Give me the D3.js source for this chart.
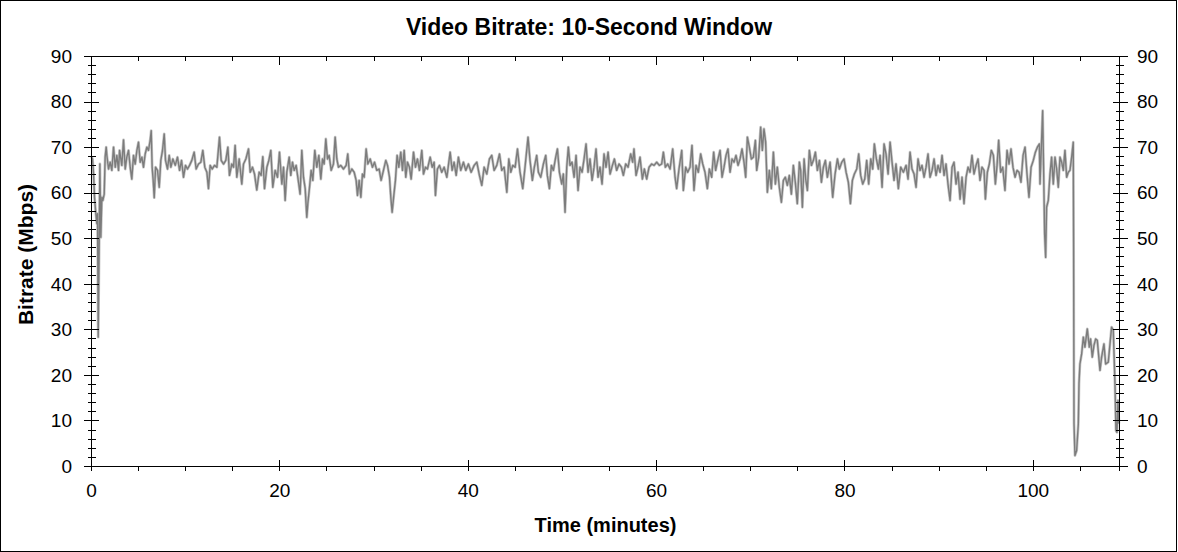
<!DOCTYPE html>
<html><head><meta charset="utf-8">
<script src="https://cdn.jsdelivr.net/npm/d3@7"></script>
<style>
body{margin:0;background:#fff}
svg{display:block}
text{font-family:"Liberation Sans",Arial,Helvetica,sans-serif;fill:#000}
</style>
</head><body>
<svg id="chart" width="1178" height="552"></svg>
<script>
const chartTitle = "Video Bitrate: 10-Second Window";
const xTitle = "Time (minutes)";
const yTitle = "Bitrate (Mbps)";

const minutes = [
0.00,0.11,0.22,0.32,0.46,0.57,0.64,0.71,0.82,0.89,
0.99,1.10,1.21,1.35,1.45,1.56,
1.63,1.81,1.98,2.16,2.34,2.52,2.69,2.87,2.98,3.22,
3.40,3.58,3.75,3.93,4.11,4.28,4.46,4.64,4.82,4.99,
5.17,5.35,5.52,5.70,5.88,6.05,6.23,6.34,6.44,6.55,
6.66,6.80,7.01,7.19,7.36,7.54,7.72,7.86,8.07,8.25,
8.43,8.64,8.89,9.13,9.35,9.56,9.77,9.98,10.19,10.41,
10.65,10.90,11.11,11.36,11.61,11.82,12.03,12.25,12.42,12.60,
12.81,13.06,13.31,13.59,13.77,14.02,14.26,14.48,14.65,14.90,
15.08,15.25,15.43,15.68,15.96,16.14,16.39,16.67,16.85,17.09,
17.31,17.55,17.80,18.01,18.19,18.37,18.62,18.83,19.04,19.25,
19.50,19.75,19.96,
20.21,20.39,20.56,20.74,20.99,21.16,21.34,21.52,21.73,21.98,
22.15,22.33,22.51,22.69,22.86,22.97,23.15,23.32,23.50,23.71,
23.92,24.14,24.35,24.53,24.70,24.88,25.06,25.23,25.45,25.69,
25.87,26.05,26.22,26.47,26.75,27.04,27.21,27.39,27.64,27.89,
28.10,28.24,28.42,28.60,28.77,28.95,29.16,29.34,29.59,29.83,
30.05,30.29,30.54,30.75,31.00,31.25,31.43,31.64,31.78,31.92,
32.10,32.27,32.45,32.63,32.84,33.02,33.20,33.37,33.55,33.76,
33.94,34.19,34.40,34.61,34.82,35.07,35.25,35.46,35.67,35.96,
36.17,36.38,36.52,36.73,36.95,37.19,37.44,37.73,38.08,38.29,
38.50,38.72,38.96,39.21,39.49,39.74,40.02,40.31,40.63,40.91,
41.19,41.44,41.69,41.97,42.25,42.50,42.75,43.03,43.32,43.56,
43.81,44.10,44.31,44.52,44.73,44.98,45.23,
45.50,45.79,46.03,46.35,46.56,46.81,47.02,47.27,47.45,47.70,
47.98,48.23,48.40,48.62,48.83,49.04,49.29,49.47,49.68,49.93,
50.10,50.28,50.46,50.63,50.81,51.02,51.24,51.45,51.66,51.87,
52.09,52.30,52.51,52.72,52.93,53.15,53.36,53.57,53.78,53.99,
54.21,54.42,54.63,54.85,55.06,55.31,55.52,55.76,56.01,56.26,
56.47,56.72,56.97,57.25,57.46,57.60,57.82,58.07,58.24,58.49,
58.70,58.95,59.20,59.48,59.73,60.01,60.29,60.54,60.72,60.93,
61.18,61.43,61.71,61.96,62.13,62.38,62.67,62.84,63.09,63.30,
63.55,63.76,63.97,64.19,64.43,64.68,64.90,65.14,65.39,65.60,
65.85,66.06,66.27,66.49,66.74,66.95,67.16,67.37,67.58,67.80,
68.01,68.22,68.43,68.65,68.86,69.07,69.28,69.46,69.64,69.85,
70.06,70.27,70.49,70.63,70.84,71.05,71.23,71.40,71.58,71.76,
71.97,72.18,72.40,72.61,72.82,73.03,73.25,73.46,73.67,73.88,
74.09,74.31,74.52,74.73,74.94,75.16,
75.30,75.48,75.66,75.83,76.01,76.22,76.44,76.65,76.86,77.07,
77.29,77.50,77.71,77.92,78.13,78.42,78.70,78.95,79.20,79.41,
79.66,79.90,80.12,80.36,80.58,80.79,81.00,81.25,81.46,81.67,
81.89,82.10,82.31,82.52,82.74,82.95,83.12,83.34,83.55,83.73,
83.94,84.15,84.36,84.58,84.79,85.00,85.21,85.42,85.67,85.92,
86.20,86.49,86.70,86.91,87.12,87.34,87.55,87.76,87.97,88.18,
88.40,88.61,88.82,89.03,89.25,89.46,89.67,89.88,90.10,90.31,
90.52,90.73,90.94,91.16,91.37,91.58,91.79,92.01,92.22,92.43,
92.64,92.86,93.07,93.28,93.49,93.70,93.92,94.13,94.34,94.55,
94.77,94.91,95.12,95.33,95.54,95.76,95.97,96.15,96.32,96.53,
96.75,96.99,97.21,97.42,97.63,97.84,98.06,98.27,98.48,98.69,
98.91,99.12,99.33,99.54,99.76,100.00,100.22,100.43,100.64,
100.71,100.99,101.10,101.20,101.31,101.41,101.59,101.77,101.94,102.12,
102.30,102.48,102.65,102.83,103.01,103.18,103.36,103.54,103.71,103.89,
104.07,104.24,104.28,104.32,104.42,104.60,104.78,104.85,104.95,105.13,
105.31,105.48,105.73,105.94,106.08,106.26,106.44,106.62,106.79,107.08,
107.25,107.50,107.68,107.96,108.14,108.31,108.49,108.67,108.77,108.88,
108.99,109.09
];

const bitrate = [
68.0,67.5,64.2,59.1,55.5,53.3,55.5,28.4,49.6,66.4,
50.3,59.1,58.4,59.8,67.9,70.1,
68.3,65.3,66.8,65.0,70.1,65.7,68.3,65.0,69.4,66.1,
71.7,65.3,67.9,69.4,65.7,63.1,68.3,66.4,69.4,71.2,
66.8,67.9,65.7,68.6,70.1,69.4,71.6,73.7,65.7,62.8,
59.0,65.7,65.0,61.3,67.2,69.4,73.0,67.2,65.3,68.3,
65.7,67.5,66.1,67.9,65.0,67.2,63.5,66.1,65.3,66.1,
67.2,69.0,65.3,66.4,66.8,69.4,65.7,64.6,61.0,66.1,
65.3,66.1,65.7,72.3,67.2,66.4,67.2,70.1,63.9,66.4,
65.7,70.5,63.5,67.5,62.0,66.4,67.5,69.7,64.6,65.7,
64.2,60.7,64.6,63.9,68.0,61.0,65.7,67.2,69.4,61.3,
65.0,63.5,69.0,
62.0,65.7,58.4,64.6,67.9,63.9,66.8,65.0,66.1,62.4,
59.8,69.4,63.5,61.0,54.7,57.7,61.3,65.0,62.8,69.4,
65.7,68.3,63.1,67.5,66.4,71.9,67.5,68.3,65.0,66.4,
72.3,67.5,65.7,66.1,65.3,66.1,68.6,64.2,65.3,64.6,
62.8,59.5,62.8,59.1,64.2,63.5,69.7,66.4,67.5,65.7,
66.8,65.0,65.3,62.8,65.0,67.2,66.1,63.5,59.1,55.8,
59.5,62.8,68.3,65.7,69.0,65.0,69.4,63.5,66.8,65.7,
63.1,69.0,65.7,67.5,65.0,69.4,64.2,65.7,65.3,67.9,
65.7,66.8,59.5,65.3,66.1,64.6,65.7,63.5,69.0,65.0,
66.8,63.9,67.9,65.0,66.8,65.0,66.4,64.6,66.1,66.8,
63.9,61.7,65.7,64.2,67.5,68.3,65.0,66.1,68.6,65.0,
65.7,60.2,67.5,64.6,66.1,65.7,69.7,
64.6,61.0,65.7,72.3,67.2,62.8,65.7,68.3,64.6,63.5,
66.4,68.3,63.9,61.0,66.1,65.0,67.9,69.7,64.6,62.0,
64.2,55.8,65.7,70.1,66.1,66.8,63.5,68.3,60.6,65.7,
64.6,67.5,70.8,64.6,67.5,62.8,65.7,69.7,63.5,65.7,
62.0,68.6,65.7,69.0,64.2,66.1,67.5,65.0,66.4,65.7,
63.9,66.4,65.7,68.6,66.8,69.7,63.9,66.1,67.9,63.1,
65.3,63.1,65.7,66.4,66.1,66.8,66.1,66.4,69.0,65.7,
66.4,65.3,69.7,63.5,61.0,65.3,69.4,60.6,65.7,64.6,
65.7,70.5,60.6,66.1,64.6,68.6,66.4,64.6,61.0,65.3,
63.5,69.0,65.0,67.2,69.4,63.5,65.7,68.3,69.7,64.6,
67.5,66.8,68.3,66.1,67.5,69.7,66.8,63.5,72.3,70.1,
67.5,67.9,71.6,65.0,67.9,74.5,69.4,74.1,71.2,60.2,
65.0,61.0,69.0,62.0,65.7,61.3,58.0,62.8,63.5,61.7,
63.9,59.8,66.1,62.4,57.7,66.8,
65.0,56.9,67.5,63.1,60.6,69.4,66.1,67.2,69.0,65.0,
67.2,62.4,65.7,67.2,63.5,66.8,59.1,64.2,67.5,65.3,
66.8,67.5,64.6,62.4,57.7,62.8,64.2,65.3,68.6,63.9,
62.0,63.1,67.2,62.0,67.5,65.3,70.8,67.5,65.3,68.3,
61.3,70.8,68.6,64.2,71.2,66.8,62.8,66.4,61.0,65.7,
64.6,66.1,63.1,69.0,65.3,64.2,61.3,67.5,65.0,66.1,
63.5,65.7,68.6,63.5,65.0,67.5,63.9,66.1,64.6,68.3,
63.9,66.4,62.0,58.4,65.7,66.8,62.0,64.6,58.7,63.5,
57.7,63.5,65.7,64.6,68.3,64.2,66.1,67.5,62.8,65.7,
65.0,58.7,64.6,66.4,69.4,68.3,62.0,66.1,71.6,64.6,
65.7,60.6,69.4,66.4,69.7,65.7,63.5,65.0,64.6,62.4,
68.3,70.1,64.2,59.1,65.7,67.2,69.0,70.1,70.8,
62.0,78.1,64.2,51.0,45.9,56.9,58.4,64.2,67.9,62.0,
67.9,65.3,61.3,67.9,66.8,65.0,69.4,63.5,64.6,65.0,
67.9,71.2,47.4,9.4,2.4,3.5,9.4,18.2,22.5,24.7,
28.4,26.2,30.2,26.2,28.0,24.0,26.6,28.0,27.7,21.1,
24.0,26.9,22.5,22.9,26.9,30.6,29.9,18.2,7.9,7.5,
14.5,9.4
];

const xMajorTicks = [0, 20, 40, 60, 80, 100];
const xMinorTicks = [5, 10, 15, 25, 30, 35, 45, 50, 55, 65, 70, 75, 85, 90, 95, 105];
const yMajorTicks = [0, 10, 20, 30, 40, 50, 60, 70, 80, 90];
const yMinorTicks = d3.range(2, 90, 2).filter(v => v % 10 !== 0);

const svg = d3.select("#chart");
const L = 91.5, R = 1119.5, T = 56.5, B = 466.5;
const xMax = 109.15;
const x = d3.scaleLinear().domain([0, xMax]).range([L, R]);
const y = d3.scaleLinear().domain([0, 90]).range([B, T]);
const px = v => Math.round(v - 0.5) + 0.5;

// outer frame
svg.append("rect").attr("x", 0.5).attr("y", 0.5).attr("width", 1176).attr("height", 551)
  .attr("fill", "#fff").attr("stroke", "#000").attr("stroke-width", 1);

// data line
const pts = d3.zip(minutes, bitrate);
const line = d3.line().x(d => x(d[0])).y(d => y(d[1]));
svg.append("path").datum(pts).attr("d", line).attr("fill", "none")
  .attr("stroke", "#c8c8c8").attr("stroke-width", 2.8).attr("stroke-linejoin", "round");
svg.append("path").datum(pts).attr("d", line).attr("fill", "none")
  .attr("stroke", "#7c7c7c").attr("stroke-width", 1.4).attr("stroke-linejoin", "round");

const ax = svg.append("g").attr("stroke", "#000").attr("stroke-width", 1).attr("shape-rendering", "crispEdges");
// frame lines
ax.append("line").attr("x1", 84).attr("x2", 1128).attr("y1", T).attr("y2", T);
ax.append("line").attr("x1", 84).attr("x2", 1128).attr("y1", B).attr("y2", B);
ax.append("line").attr("x1", L).attr("x2", L).attr("y1", T).attr("y2", B + 4);
ax.append("line").attr("x1", R).attr("x2", R).attr("y1", T).attr("y2", B + 4);

// y ticks (both sides, crossing)
ax.selectAll(".ylmaj").data(yMajorTicks).join("line")
  .attr("x1", 84).attr("x2", 99).attr("y1", d => px(y(d))).attr("y2", d => px(y(d)));
ax.selectAll(".ylmin").data(yMinorTicks).join("line").attr("class", "ylmin")
  .attr("x1", 88).attr("x2", 95.5).attr("y1", d => px(y(d))).attr("y2", d => px(y(d)));
ax.selectAll(".yrmaj").data(yMajorTicks).join("line").attr("class", "yrmaj")
  .attr("x1", 1113).attr("x2", 1127.5).attr("y1", d => px(y(d))).attr("y2", d => px(y(d)));
ax.selectAll(".yrmin").data(yMinorTicks).join("line").attr("class", "yrmin")
  .attr("x1", 1115.5).attr("x2", 1124).attr("y1", d => px(y(d))).attr("y2", d => px(y(d)));

// x ticks bottom
ax.selectAll(".xbmaj").data(xMajorTicks).join("line").attr("class", "xbmaj")
  .attr("x1", d => px(x(d))).attr("x2", d => px(x(d))).attr("y1", B - 7).attr("y2", B + 4);
ax.selectAll(".xbmin").data(xMinorTicks).join("line").attr("class", "xbmin")
  .attr("x1", d => px(x(d))).attr("x2", d => px(x(d))).attr("y1", B).attr("y2", B + 4);
// x ticks top
ax.selectAll(".xtmaj").data(xMajorTicks).join("line").attr("class", "xtmaj")
  .attr("x1", d => px(x(d))).attr("x2", d => px(x(d))).attr("y1", T).attr("y2", T + 8);
ax.selectAll(".xtmin").data(xMinorTicks).join("line").attr("class", "xtmin")
  .attr("x1", d => px(x(d))).attr("x2", d => px(x(d))).attr("y1", T).attr("y2", T + 4.5);

// labels
const fs = 19;
svg.append("g").selectAll("text").data(yMajorTicks).join("text")
  .attr("x", 72).attr("y", d => y(d)).attr("dy", "0.33em").attr("text-anchor", "end")
  .attr("font-size", fs).text(d => d);
svg.append("g").selectAll("text").data(yMajorTicks).join("text")
  .attr("x", 1137).attr("y", d => y(d)).attr("dy", "0.33em").attr("text-anchor", "start")
  .attr("font-size", fs).text(d => d);
svg.append("g").selectAll("text").data(xMajorTicks).join("text")
  .attr("x", d => x(d)).attr("y", 497).attr("text-anchor", "middle")
  .attr("font-size", fs).text(d => d);

svg.append("text").attr("x", 589).attr("y", 35).attr("text-anchor", "middle")
  .attr("font-size", 23).attr("font-weight", "bold").text(chartTitle);
svg.append("text").attr("x", (L + R) / 2).attr("y", 532).attr("text-anchor", "middle")
  .attr("font-size", 20).attr("font-weight", "bold").text(xTitle);
svg.append("text").attr("transform", "translate(33,254.5) rotate(-90)").attr("text-anchor", "middle")
  .attr("font-size", 21).attr("font-weight", "bold").text(yTitle);
</script>
</body></html>
